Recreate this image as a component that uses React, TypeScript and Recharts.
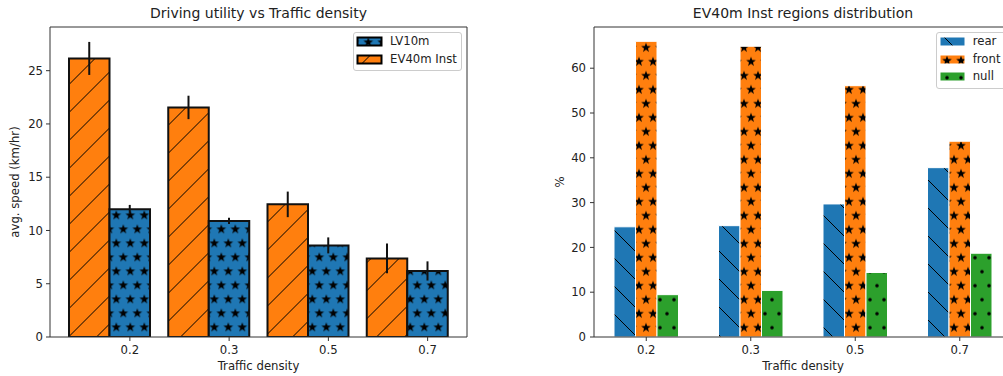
import React from "react";
import { Bar, BarChart, ErrorBar, Legend, XAxis, YAxis } from "recharts";

const densities = ["0.2", "0.3", "0.5", "0.7"];

// left panel: avg. speed (km/hr)
const ev40mInst = [26.15, 21.55, 12.45, 7.38];
const ev40mInstErr = [1.55, 1.1, 1.2, 1.4];
const lv10m = [12.0, 10.9, 8.6, 6.2];
const lv10mErr = [0.4, 0.3, 0.75, 0.9];
const speedTicks = [0, 5, 10, 15, 20, 25];

// right panel: EV40m Inst regions (%)
const rear = [24.6, 24.85, 29.7, 37.8];
const front = [66.0, 64.9, 56.1, 43.7];
const nullRegion = [9.45, 10.4, 14.4, 18.7];
const pctTicks = [0, 10, 20, 30, 40, 50, 60];

const BLUE = "#1f77b4";
const ORANGE = "#ff7f0e";
const GREEN = "#2ca02c";
const INK = "#222";
const SPINE = "#333";
const FS = 11.7;

const speedData = densities.map((d, i) => ({
  density: d,
  ev: ev40mInst[i],
  evErr: ev40mInstErr[i],
  lv: lv10m[i],
  lvErr: lv10mErr[i],
}));

const regionData = densities.map((d, i) => ({
  density: d,
  rear: rear[i],
  front: front[i],
  none: nullRegion[i],
}));

function starPath(cx: number, cy: number, R: number) {
  const r = R * 0.4;
  let d = "";
  for (let i = 0; i < 10; i++) {
    const rad = i % 2 === 0 ? R : r;
    const a = -Math.PI / 2 + (i * Math.PI) / 5;
    d += (i === 0 ? "M" : "L") + (cx + rad * Math.cos(a)).toFixed(2) + " " + (cy + rad * Math.sin(a)).toFixed(2);
  }
  return d + "Z";
}

function StarPattern({ id, color, x, y }: { id: string; color: string; x: number; y: number }) {
  const R = 5.1;
  return (
    <pattern id={id} patternUnits="userSpaceOnUse" x={x} y={y} width={14} height={28}>
      <rect width={14} height={28} fill={color} />
      <path d={starPath(7, 7, R) + starPath(0, 21, R) + starPath(14, 21, R)} fill="#000" />
    </pattern>
  );
}

function ShiftedTick(props: any) {
  const { x, y, payload, shift = 0 } = props;
  const cx = x + shift;
  return (
    <g>
      <line x1={cx} y1={y} x2={cx} y2={y + 4} stroke={SPINE} />
      <text x={cx} y={y + 17} textAnchor="middle" fontSize={FS} fill={INK}>
        {payload.value}
      </text>
    </g>
  );
}

type LegendItem = { label: string; fill: string; stroke: string; strokeWidth: number };

function PatchLegend({ items, width }: { items: LegendItem[]; width?: number }) {
  return (
    <div
      style={{
        boxSizing: "border-box",
        border: "1px solid #cccccc",
        borderRadius: 3,
        background: "rgba(255,255,255,0.8)",
        padding: "0px 6px 2px 3px",
        width,
      }}
    >
      {items.map((it) => (
        <div
          key={it.label}
          style={{ display: "flex", alignItems: "center", height: 17.6, fontSize: FS, color: INK, lineHeight: 1, whiteSpace: "nowrap" }}
        >
          <svg width={25} height={9} style={{ marginRight: 8, overflow: "visible" }}>
            <rect x={0.5} y={0.5} width={24} height={8} fill={it.fill} stroke={it.stroke} strokeWidth={it.strokeWidth} />
          </svg>
          <span>{it.label}</span>
        </div>
      ))}
    </div>
  );
}

const title: React.CSSProperties = {
  position: "absolute",
  top: 5,
  fontSize: 14,
  color: INK,
  transform: "translateX(-50%)",
  whiteSpace: "nowrap",
};

// top and right spines (matplotlib axes box); an invisible bar keeps these axes alive
function frameAxes(yMax: number, padding: { left: number; right: number }, key: string) {
  return [
    <XAxis
      key="top"
      xAxisId="top"
      orientation="top"
      dataKey="density"
      padding={padding}
      height={1}
      tick={false}
      tickLine={false}
      axisLine={{ stroke: SPINE }}
    />,
    <YAxis
      key="right"
      yAxisId="right"
      orientation="right"
      type="number"
      domain={[0, yMax]}
      allowDataOverflow
      width={1}
      tick={false}
      tickLine={false}
      axisLine={{ stroke: SPINE }}
    />,
    <Bar
      key="frame"
      xAxisId="top"
      yAxisId="right"
      dataKey={key}
      fill="transparent"
      stroke="none"
      legendType="none"
      isAnimationActive={false}
    />,
  ];
}

function SpeedChart() {
  return (
    <BarChart
      width={480}
      height={376}
      data={speedData}
      margin={{ top: 26, right: 12, bottom: 0, left: 0 }}
      barGap={0}
      barSize={40.5}
    >
      <defs>
        <pattern id="evHatch" patternUnits="userSpaceOnUse" x={13.5} y={0} width={28} height={28}>
          <rect width={28} height={28} fill={ORANGE} />
          <path d="M-2 30 L30 -2 M-2 2 L2 -2 M26 30 L30 26" stroke="#000" strokeWidth={1} />
        </pattern>
        <StarPattern id="lvStars" color={BLUE} x={4.3} y={26.3} />
      </defs>
      <XAxis
        xAxisId="bottom"
        dataKey="density"
        padding={{ left: 10, right: 10 }}
        height={39}
        tick={<ShiftedTick shift={20.25} />}
        tickLine={false}
        tickSize={0}
        tickMargin={0}
        axisLine={{ stroke: SPINE }}
        label={{ value: "Traffic density", position: "insideBottom", offset: 6, fontSize: FS, fill: INK }}
      />
      <YAxis
        yAxisId="left"
        width={50}
        domain={[0, 29.1]}
        allowDataOverflow
        ticks={speedTicks}
        tick={{ fontSize: FS, fill: INK }}
        tickSize={4}
        tickMargin={3}
        tickLine={{ stroke: SPINE }}
        axisLine={{ stroke: SPINE }}
        label={{ value: "avg. speed (km/hr)", angle: -90, position: "insideLeft", offset: 15, textAnchor: "middle", fontSize: FS, fill: INK }}
      />
      {frameAxes(29.1, { left: 10, right: 10 }, "ev")}
      <Legend
        layout="vertical"
        align="center"
        verticalAlign="middle"
        wrapperStyle={{ left: 353, top: 32 }}
        content={() => (
          <PatchLegend
            width={109}
            items={[
              { label: "LV10m", fill: "url(#lvStars)", stroke: "#000", strokeWidth: 2 },
              { label: "EV40m Inst", fill: "url(#evHatch)", stroke: "#000", strokeWidth: 2 },
            ]}
          />
        )}
      />
      <Bar xAxisId="bottom" yAxisId="left" dataKey="ev" name="EV40m Inst" fill="url(#evHatch)" stroke="#111" strokeWidth={2} isAnimationActive={false}>
        <ErrorBar dataKey="evErr" width={0} stroke="#111" strokeWidth={2} direction="y" isAnimationActive={false} />
      </Bar>
      <Bar xAxisId="bottom" yAxisId="left" dataKey="lv" name="LV10m" fill="url(#lvStars)" stroke="#111" strokeWidth={2} isAnimationActive={false}>
        <ErrorBar dataKey="lvErr" width={0} stroke="#111" strokeWidth={2} direction="y" isAnimationActive={false} />
      </Bar>
    </BarChart>
  );
}

function RegionChart() {
  return (
    <BarChart
      width={500}
      height={376}
      data={regionData}
      margin={{ top: 26, right: 7, bottom: 0, left: 0 }}
      barGap={0}
      barSize={21.5}
    >
      <defs>
        <pattern id="rearHatch" patternUnits="userSpaceOnUse" x={4} y={0} width={28} height={28}>
          <rect width={28} height={28} fill={BLUE} />
          <path d="M-2 -2 L30 30 M26 -2 L30 2 M-2 26 L2 30" stroke="#000" strokeWidth={1} />
        </pattern>
        <StarPattern id="frontStars" color={ORANGE} x={7} y={12.7} />
        <pattern id="nullDots" patternUnits="userSpaceOnUse" x={0} y={26.7} width={14} height={28}>
          <rect width={14} height={28} fill={GREEN} />
          <circle cx={7} cy={7} r={1.8} fill="#000" />
          <circle cx={0} cy={21} r={1.8} fill="#000" />
          <circle cx={14} cy={21} r={1.8} fill="#000" />
        </pattern>
      </defs>
      <XAxis
        xAxisId="bottom"
        dataKey="density"
        height={39}
        tick={<ShiftedTick shift={0} />}
        tickLine={false}
        tickSize={0}
        tickMargin={0}
        axisLine={{ stroke: SPINE }}
        label={{ value: "Traffic density", position: "insideBottom", offset: 6, fontSize: FS, fill: INK }}
      />
      <YAxis
        yAxisId="left"
        width={74}
        domain={[0, 69.2]}
        allowDataOverflow
        ticks={pctTicks}
        tick={{ fontSize: FS, fill: INK }}
        tickSize={4}
        tickMargin={4}
        tickLine={{ stroke: SPINE }}
        axisLine={{ stroke: SPINE }}
        label={{ value: "%", angle: -90, position: "insideLeft", offset: 40, textAnchor: "middle", fontSize: FS, fill: INK }}
      />
      {frameAxes(69.2, { left: 0, right: 0 }, "rear")}
      <Legend
        layout="vertical"
        align="center"
        verticalAlign="middle"
        wrapperStyle={{ left: 415.7, top: 32 }}
        content={() => (
          <PatchLegend
            width={90}
            items={[
              { label: "rear", fill: "url(#rearHatch)", stroke: "none", strokeWidth: 0 },
              { label: "front", fill: "url(#frontStars)", stroke: "none", strokeWidth: 0 },
              { label: "null", fill: "url(#nullDots)", stroke: "none", strokeWidth: 0 },
            ]}
          />
        )}
      />
      <Bar xAxisId="bottom" yAxisId="left" dataKey="rear" name="rear" fill="url(#rearHatch)" stroke="#fff" strokeWidth={1} isAnimationActive={false} />
      <Bar xAxisId="bottom" yAxisId="left" dataKey="front" name="front" fill="url(#frontStars)" stroke="#fff" strokeWidth={1} isAnimationActive={false} />
      <Bar xAxisId="bottom" yAxisId="left" dataKey="none" name="null" fill="url(#nullDots)" stroke="#fff" strokeWidth={1} isAnimationActive={false} />
    </BarChart>
  );
}

export default function App() {
  return (
    <div
      style={{
        position: "absolute",
        left: 0,
        top: 0,
        width: 1003,
        height: 376,
        overflow: "hidden",
        background: "#fff",
        fontFamily: "'DejaVu Sans', sans-serif",
      }}
    >
      <div style={{ position: "absolute", left: 0, top: 0 }}>
        <SpeedChart />
      </div>
      <div style={{ position: "absolute", left: 520, top: 0 }}>
        <RegionChart />
      </div>
      <div style={{ ...title, left: 258.5 }}>Driving utility vs Traffic density</div>
      <div style={{ ...title, left: 803 }}>EV40m Inst regions distribution</div>
    </div>
  );
}
